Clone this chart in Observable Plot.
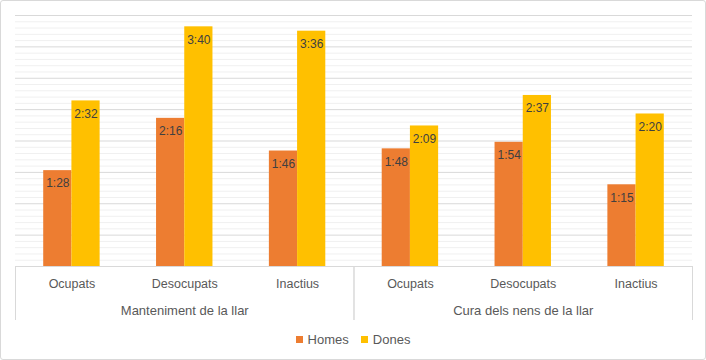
<!DOCTYPE html>
<html>
<head>
<meta charset="utf-8">
<script src="https://cdn.jsdelivr.net/npm/d3@7"></script>
<script src="https://cdn.jsdelivr.net/npm/@observablehq/plot@0.6"></script>
<style>
  html, body { margin: 0; padding: 0; background: #fff; }
  #wrap { position: relative; width: 706px; height: 360px; overflow: hidden; font-family: "Liberation Sans", Arial, sans-serif; }
  #border { position: absolute; left: 0; top: 0; width: 706px; height: 360px; box-sizing: border-box; border: 1px solid #d9d9d9; border-radius: 3px; pointer-events: none; }
  #chart { position: absolute; left: 0; top: 0; }
  #legend { position: absolute; left: 0; top: 330px; width: 706px; height: 18px; display: flex; justify-content: center; align-items: center; font-size: 13px; color: #595959; }
  .item { display: flex; align-items: center; margin: 0 6px; }
  .sw { width: 7px; height: 7px; margin-right: 5px; }
</style>
</head>
<body>
<div id="wrap">
  <div id="chart"></div>
  <div id="legend"></div>
  <div id="border"></div>
</div>
<script>
const groupNames = ["Manteniment de la llar", "Cura dels nens de la llar"];
const subCategories = ["Ocupats", "Desocupats", "Inactius"];
const seriesNames = ["Homes", "Dones"];
const seriesColors = ["#ED7D31", "#FFC000"];
const homesLabels = ["1:28", "2:16", "1:46", "1:48", "1:54", "1:15"];
const donesLabels = ["2:32", "3:40", "3:36", "2:09", "2:37", "2:20"];

const toMin = s => { const [h, m] = s.split(":").map(Number); return h * 60 + m; };

const rows = [];
groupNames.forEach((g, gi) => subCategories.forEach((s, si) => {
  const i = gi * subCategories.length + si;
  rows.push({key: g + "|" + s, group: g, sub: s,
    homes: toMin(homesLabels[i]), dones: toMin(donesLabels[i]),
    homesLabel: homesLabels[i], donesLabel: donesLabels[i], idx: si});
}));
const keys = rows.map(d => d.key);

const W = 706, H = 325, mL = 15, mR = 14, mT = 15, mB = 59;
const step = (W - mL - mR) / keys.length;
const bw = step * 0.5;
// Excel time axis: major unit 0.02 day (28.8 min), minor 0.004 day (5.76 min), max 0.16 day
const yMax = 0.16 * 1440, major = 0.02 * 1440, minor = 0.004 * 1440;
const majorTicks = d3.range(0, Math.round(yMax / major) + 1).map(i => i * major);
const minorTicks = d3.range(0, Math.round(yMax / minor) + 1).map(i => i * minor).filter((v, i) => i % 5 !== 0);

const plot = Plot.plot({
  width: W, height: H,
  marginLeft: mL, marginRight: mR, marginTop: mT, marginBottom: mB,
  style: {fontFamily: "'Liberation Sans', Arial, sans-serif", fontSize: "12px", background: "transparent"},
  x: {type: "band", domain: keys, paddingInner: 0.5, paddingOuter: 0.25, round: false, axis: null},
  y: {domain: [0, yMax], axis: null},
  marks: [
    Plot.ruleY(minorTicks, {stroke: "#f0f0f0"}),
    Plot.ruleY(majorTicks.filter(v => v > 0), {stroke: "#d9d9d9"}),
    Plot.barY(rows, {x: "key", y: "homes", fill: seriesColors[0], insetRight: bw / 2}),
    Plot.barY(rows, {x: "key", y: "dones", fill: seriesColors[1], insetLeft: bw / 2}),
    Plot.text(rows, {x: "key", y: "homes", text: "homesLabel", dx: -bw / 4, dy: 13, fill: "#404040", fontSize: 12}),
    Plot.text(rows, {x: "key", y: "dones", text: "donesLabel", dx: bw / 4, dy: 13, fill: "#404040", fontSize: 12}),
    Plot.ruleY([0], {stroke: "#d9d9d9"}),
    Plot.ruleX(rows.filter(d => d.idx === 0), {x: "key", y1: 0, y2: 0, dx: -step / 2, insetBottom: -54, stroke: "#d9d9d9"}),
    Plot.ruleX(rows.filter(d => d.idx === subCategories.length - 1), {x: "key", y1: 0, y2: 0, dx: step / 2, insetBottom: -54, stroke: "#d9d9d9"}),
    Plot.text(rows, {x: "key", y: () => 0, text: "sub", dy: 17, fill: "#595959", fontSize: 12.5}),
    Plot.text(rows.filter(d => d.idx === 1), {x: "key", y: () => 0, text: "group", dy: 44, fill: "#595959", fontSize: 13})
  ]
});
document.getElementById("chart").appendChild(plot);

const leg = document.getElementById("legend");
seriesNames.forEach((n, i) => {
  const it = document.createElement("div");
  it.className = "item";
  const sw = document.createElement("div");
  sw.className = "sw";
  sw.style.background = seriesColors[i];
  const t = document.createElement("span");
  t.textContent = n;
  it.appendChild(sw); it.appendChild(t);
  leg.appendChild(it);
});
</script>
</body>
</html>
